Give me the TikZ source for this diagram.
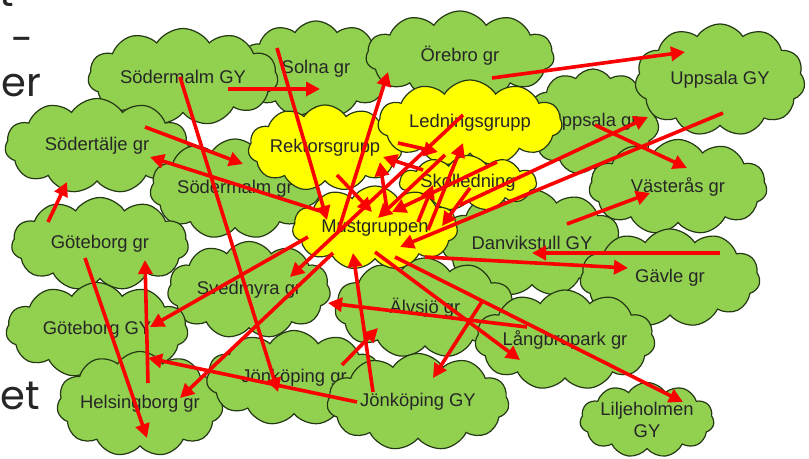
\documentclass[tikz,border=0pt]{standalone}
\usepackage{fontspec}
\setmainfont{Liberation Sans}
\newfontfamily\slidefont{Poppins}
\usetikzlibrary{positioning, arrows.meta, shapes.symbols}
\definecolor{cloudgreen}{RGB}{146,208,80}
\definecolor{cloudyellow}{RGB}{255,255,0}
\definecolor{cloudline}{RGB}{36,56,20}
\definecolor{arrowred}{RGB}{250,0,0}
\tikzset{
    school/.style={cloud, cloud puffs=11, cloud puff arc=115, cloud ignores aspect, draw=cloudline, line width=0.6pt, fill=cloudgreen, inner sep=0pt, font=\fontsize{9.2}{11}\selectfont, text=black!85},
    team/.style={school, fill=cloudyellow},
    link/.style={-{Triangle[length=7pt, width=7pt]}, line width=1.8pt, draw=arrowred}
}

\begin{document}
\begin{tikzpicture}[x=0.5pt, y=-0.5pt,
    slide/.style={font=\slidefont\fontsize{20}{24}\selectfont, text=black!85, inner sep=0pt}
]
\useasboundingbox (0,0) rectangle (809,459);
\clip (0,0) rectangle (809,459);

% Slide text cut off at the left edge
\node[slide, anchor=base east] (s1) at (14,7) {t};
\node[slide, anchor=east] (s2) at (34,45) {-};
\node[slide, anchor=base west] (s3) at (1,97) {er};
\node[slide, anchor=base west] (s4) at (0,410) {et};

% Schools (back to front)
\node[school, minimum width=66pt, minimum height=53pt] (uppgr) at (593,122) {Uppsala gr};
\node[school, minimum width=77.5pt, minimum height=48pt] (solna) at (316,69) {Solna gr};
\node[school, minimum width=94pt, minimum height=45pt] (orebro) at (460,56) {Örebro gr};
\node[school, minimum width=95pt, minimum height=48.5pt] (sgy) at (183,77) {Södermalm GY};
\node[school, minimum width=85pt, minimum height=56pt] (uppgy) at (720,80) {Uppsala GY};
\node[school, minimum width=92pt, minimum height=47.5pt] (sodt) at (97,146) {Södertälje gr};
\node[school, minimum width=85pt, minimum height=50pt] (sodgr) at (235,189) {Södermalm gr};
\node[school, minimum width=89pt, minimum height=47.5pt] (vast) at (678,187) {Västerås gr};
\node[school, minimum width=88.5pt, minimum height=46.5pt] (gbgr) at (100,244) {Göteborg gr};
\node[school, minimum width=90pt, minimum height=53.5pt] (danv) at (532,243) {Danvikstull GY};
\node[school, minimum width=90pt, minimum height=49pt] (gavle) at (670,278) {Gävle gr};
\node[school, minimum width=81.5pt, minimum height=48.5pt] (sved) at (249,290) {Svedmyra gr};
\node[school, minimum width=91pt, minimum height=47.5pt] (gbgy) at (97,330) {Göteborg GY};
\node[school, minimum width=90pt, minimum height=50pt] (alvsjo) at (425,308) {Älvsjö gr};
\node[school, minimum width=90pt, minimum height=50pt] (lang) at (565,340) {Långbropark gr};
\node[school, minimum width=82.5pt, minimum height=52.5pt] (hels) at (140,404) {Helsingborg gr};
\node[school, minimum width=87.5pt, minimum height=47.5pt] (jgr) at (294,378) {Jönköping gr};
\node[school, minimum width=91pt, minimum height=48.5pt] (jgy) at (418,402) {Jönköping GY};
\node[school, minimum width=66pt, minimum height=37.5pt, align=center] (lilj) at (647,420) {Liljeholmen\\GY};

% Groups
\node[team, minimum width=75pt, minimum height=43pt] (rekt) at (325,148) {Rektorsgrupp};
\node[team, minimum width=92pt, minimum height=43pt] (led) at (470,123) {Ledningsgrupp};
\node[team, minimum width=68.5pt, minimum height=27.5pt] (skol) at (468,183) {Skolledning};
\node[team, minimum width=82.5pt, minimum height=42pt] (must) at (375,228) {Mustgruppen};

% Links
\draw[link] ([shift={(45,12)}]sgy.center) -- ([shift={(4,20)}]solna.center);
\draw[link] ([shift={(-39,-21)}]solna.center) -- ([shift={(-48,-8)}]must.center);
\draw[link] ([shift={(-37,4)}]must.center) -- ([shift={(-72,16)}]orebro.center);
\draw[link] ([shift={(-3,0)}]sgy.center) -- ([shift={(-16,14)}]jgr.center);
\draw[link] ([shift={(48,-19)}]sodt.center) -- ([shift={(8,-25)}]sodgr.center);
\draw[link] ([shift={(-55,-17)}]must.center) -- ([shift={(53,11)}]sodt.center);
\draw[link] ([shift={(-52,-22)}]gbgr.center) -- ([shift={(-30,36)}]sodt.center);
\draw[link] ([shift={(-15,14)}]gbgr.center) -- ([shift={(7,34)}]hels.center);
\draw[link] ([shift={(8,-21)}]hels.center) -- ([shift={(45,16)}]gbgr.center);
\draw[link] ([shift={(-61,0)}]jgy.center) -- ([shift={(51,28)}]gbgy.center);
\draw[link] ([shift={(-67,9)}]must.center) -- ([shift={(53,-3)}]gbgy.center);
\draw[link] ([shift={(-42,25)}]must.center) -- ([shift={(40,-6)}]hels.center);
\draw[link] ([shift={(-7,-8)}]led.center) -- ([shift={(41,-13)}]sved.center);
\draw[link] ([shift={(48,-13)}]jgr.center) -- ([shift={(-47,20)}]alvsjo.center);
\draw[link] ([shift={(-45,-10)}]jgy.center) -- ([shift={(-22,25)}]must.center);
\draw[link] ([shift={(0,24)}]must.center) -- ([shift={(-45,20)}]lang.center);
\draw[link] ([shift={(20,29)}]must.center) -- ([shift={(36,-18)}]lilj.center);
\draw[link] ([shift={(-38,-13)}]lang.center) -- ([shift={(79,13)}]sved.center);
\draw[link] ([shift={(-82,-40)}]lang.center) -- ([shift={(15,-24)}]jgy.center);
\draw[link] ([shift={(50,29)}]must.center) -- ([shift={(-42,-10)}]gavle.center);
\draw[link] ([shift={(50,-25)}]gavle.center) -- ([shift={(0,10)}]danv.center);
\draw[link] ([shift={(35,-19)}]danv.center) -- ([shift={(-28,6)}]vast.center);
\draw[link] ([shift={(2,3)}]uppgr.center) -- ([shift={(9,-19)}]vast.center);
\draw[link] ([shift={(32,22)}]orebro.center) -- ([shift={(-35,-28)}]uppgy.center);
\draw[link] ([shift={(3,33)}]uppgy.center) -- ([shift={(25,19)}]must.center);
\draw[link] ([shift={(85,-23)}]must.center) -- ([shift={(55,-5)}]uppgr.center);
\draw[link] ([shift={(73,-5)}]rekt.center) -- ([shift={(-32,29)}]led.center);
\draw[link] ([shift={(-45,-13)}]skol.center) -- ([shift={(58,9)}]rekt.center);
\draw[link] ([shift={(12,-18)}]must.center) -- ([shift={(55,14)}]rekt.center);
\draw[link] ([shift={(-25,32)}]led.center) -- ([shift={(3,-10)}]must.center);
\draw[link] ([shift={(29,-21)}]skol.center) -- ([shift={(17,-16)}]must.center);
\draw[link] ([shift={(53,2)}]must.center) -- ([shift={(-7,20)}]led.center);
\draw[link] ([shift={(43,-6)}]must.center) -- ([shift={(-35,2)}]skol.center);
\draw[link] ([shift={(2,5)}]skol.center) -- ([shift={(67,-2)}]must.center);
\draw[link] ([shift={(12,27)}]rekt.center) -- ([shift={(-3,-16)}]must.center);

\end{tikzpicture}
\end{document}
